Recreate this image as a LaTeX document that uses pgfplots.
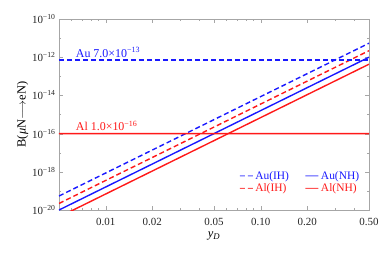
\documentclass[border=0pt]{standalone}
\usepackage{fontspec}
\setmainfont{Liberation Serif}
\usepackage{pgfplots}
\pgfplotsset{compat=1.18}
\definecolor{mblue}{rgb}{0.1,0.1,1}
\definecolor{mred}{rgb}{1,0.1,0.1}
\begin{document}
\begin{tikzpicture}
\begin{axis}[
  scale only axis,
  width=310bp, height=191bp,
  xmode=log, ymode=log,
  xmin=0.005, xmax=0.5,
  ymin=1e-20, ymax=1e-10,
  axis line style={gray!70},
  tick style={gray!70},
  tick align=inside,
  major tick length=4bp, minor tick length=2bp,
  xtick={0.01,0.02,0.05,0.1,0.2,0.5},
  xticklabels={0.01,0.02,0.05,0.10,0.20,0.50},
  minor xtick={0.006,0.007,0.008,0.009,0.03,0.04,0.06,0.07,0.08,0.09,0.3,0.4},
  ytick={1e-20,1e-18,1e-16,1e-14,1e-12,1e-10},
  yticklabels={10\textsuperscript{−20},10\textsuperscript{−18},10\textsuperscript{−16},10\textsuperscript{−14},10\textsuperscript{−12},10\textsuperscript{−10}},
  minor ytick={1e-19,1e-17,1e-15,1e-13,1e-11},
  ticklabel style={font=\fontsize{11}{12}\selectfont, text=black!85},
  xticklabel style={yshift=-5bp},
  xlabel={\textit{y}\textsubscript{\textit{D}}},
  ylabel={B(\textit{μ}N$\longrightarrow$eN)},
  label style={font=\fontsize{12.5}{14}\selectfont},
  xlabel style={yshift=1bp},
  ylabel style={yshift=-3bp},
  legend columns=2,
  legend style={draw=none, fill=none, at={(0.985,0.225)}, anchor=north east,
    font=\fontsize{11.5}{13}\selectfont, row sep=-1bp,
    /tikz/every even column/.append style={column sep=14bp}},
  legend cell align=left,
  legend image code/.code={\draw[#1, line width=1bp, opacity=0.75] (0bp,0bp) -- (13bp,0.01bp);},
  every axis plot/.append style={line width=1.4bp},
]
\addplot[mblue, dash pattern=on 5bp off 3bp] coordinates {(0.005,5.4e-20) (0.5,5.4e-12)};
\addlegendentry{\textcolor{mblue}{Au(IH)}}
\addplot[mblue] coordinates {(0.005,1.0e-20) (0.5,1.0e-12)};
\addlegendentry{\textcolor{mblue}{Au(NH)}}
\addplot[mred, dash pattern=on 5bp off 3bp] coordinates {(0.005,2.2e-20) (0.5,2.2e-12)};
\addlegendentry{\textcolor{mred}{Al(IH)}}
\addplot[mred] coordinates {(0.005,4.3e-21) (0.5,4.3e-13)};
\addlegendentry{\textcolor{mred}{Al(NH)}}
\addplot[draw=mblue, dash pattern=on 5bp off 3bp, forget plot] coordinates {(0.005,7e-13) (0.5,7e-13)};
\addplot[draw=mred, line width=1.5bp, forget plot] coordinates {(0.005,1e-16) (0.5,1.002e-16)};
\node[anchor=base west, text=mblue, font=\fontsize{12}{14}\selectfont] at (axis cs:0.0061,7e-13) [yshift=3bp] {Au 7.0×10\textsuperscript{−13}};
\node[anchor=base west, text=mred, font=\fontsize{12}{14}\selectfont] at (axis cs:0.0061,1e-16) [yshift=3bp] {Al 1.0×10\textsuperscript{−16}};
\end{axis}
\pgfresetboundingbox
\path ([xshift=-59bp,yshift=-44bp]current axis.south west) rectangle ([xshift=13bp,yshift=19bp]current axis.north east);
\end{tikzpicture}
\end{document}
